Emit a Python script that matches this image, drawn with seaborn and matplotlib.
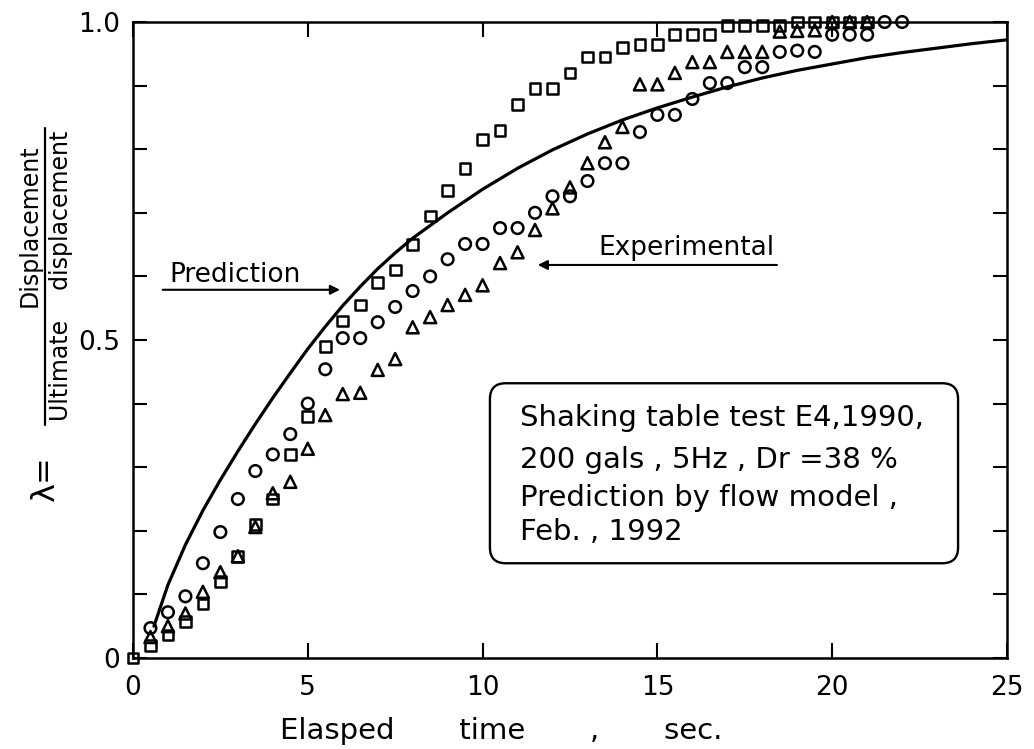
import numpy as np
import pandas as pd
import matplotlib.pyplot as plt
import seaborn as sns
from matplotlib.patches import FancyBboxPatch
from matplotlib.lines import Line2D

# experimental points (t in sec, lambda)
sq_t = [0, 0.5, 1, 1.5, 2, 2.5, 3, 3.5, 4, 4.5, 5, 5.5, 6, 6.5, 7, 7.5, 8, 8.5, 9, 9.5, 10,
        10.5, 11, 11.5, 12, 12.5, 13, 13.5, 14, 14.5, 15, 15.5, 16, 16.5, 17, 17.5, 18, 18.5,
        19, 19.5, 20, 20.5, 21]
sq_lam = [0, 0.02, 0.036, 0.057, 0.085, 0.12, 0.16, 0.21, 0.25, 0.32, 0.38, 0.49, 0.53, 0.555,
          0.59, 0.61, 0.65, 0.695, 0.735, 0.77, 0.815, 0.83, 0.87, 0.895, 0.895, 0.92, 0.945,
          0.945, 0.96, 0.965, 0.965, 0.98, 0.98, 0.98, 0.995, 0.995, 0.995, 0.995,
          1.0, 1.0, 1.0, 1.0, 1.0]

tri_t = [0.5, 1, 1.5, 2, 2.5, 3, 3.5, 4, 4.5, 5, 5.5, 6, 6.5, 7, 7.5, 8, 8.5, 9, 9.5, 10,
         10.5, 11, 11.5, 12, 12.5, 13, 13.5, 14, 14.5, 15, 15.5, 16, 16.5, 17, 17.5, 18, 18.5,
         19, 19.5, 20, 20.5, 21]
tri_lam = [0.033, 0.05, 0.07, 0.104, 0.135, 0.16, 0.206, 0.259, 0.277, 0.329, 0.382, 0.415,
           0.417, 0.453, 0.47, 0.52, 0.536, 0.555, 0.571, 0.586, 0.621, 0.638, 0.673, 0.707,
           0.74, 0.778, 0.811, 0.835, 0.902, 0.902, 0.92, 0.937, 0.937, 0.953, 0.953, 0.953,
           0.985, 0.986, 0.987, 1.0, 1.0, 1.0]

circ_t = [0.5, 1, 1.5, 2, 2.5, 3, 3.5, 4, 4.5, 5, 5.5, 6, 6.5, 7, 7.5, 8, 8.5, 9, 9.5, 10,
          10.5, 11, 11.5, 12, 12.5, 13, 13.5, 14, 14.5, 15, 15.5, 16, 16.5, 17, 17.5, 18, 18.5,
          19, 19.5, 20, 20.5, 21, 21.5, 22]
circ_lam = [0.047, 0.072, 0.097, 0.149, 0.198, 0.25, 0.294, 0.32, 0.352, 0.40, 0.454, 0.503,
            0.503, 0.528, 0.552, 0.577, 0.60, 0.627, 0.651, 0.651, 0.676, 0.676, 0.70, 0.726,
            0.726, 0.75, 0.778, 0.778, 0.827, 0.854, 0.854, 0.879, 0.904, 0.904, 0.929, 0.929,
            0.953, 0.955, 0.953, 0.98, 0.98, 0.98, 1.0, 1.0]

# prediction curve (flow model)
pred_t = [0.6, 1, 1.5, 2, 2.5, 3, 3.5, 4, 4.5, 5, 5.5, 6, 6.5, 7, 7.5, 8, 9, 10, 11, 12, 13,
          14, 15, 16, 17, 18, 19, 20, 21, 22, 23, 24, 25]
pred_lam = [0.05, 0.115, 0.178, 0.232, 0.28, 0.325, 0.368, 0.409, 0.448, 0.486, 0.521, 0.554,
            0.584, 0.612, 0.637, 0.66, 0.70, 0.737, 0.77, 0.799, 0.824, 0.846, 0.865, 0.882,
            0.898, 0.912, 0.924, 0.934, 0.944, 0.952, 0.959, 0.966, 0.972]

box_lines = ["Shaking table test E4,1990,",
             "200 gals , 5Hz , Dr =38 %",
             "Prediction by flow model ,",
             "Feb. , 1992"]

sns.set_style("ticks")
plt.rcParams['font.family'] = ['DejaVu Sans']
plt.rcParams.update({"text.color": "black", "axes.labelcolor": "black",
                     "xtick.color": "black", "ytick.color": "black",
                     "axes.edgecolor": "black"})

fig = plt.figure(figsize=(10.34, 7.49), dpi=100)
ax = fig.add_axes([0.1286, 0.1215, 0.8453, 0.8491])

pred = pd.DataFrame({"t": pred_t, "lam": pred_lam})
sns.lineplot(data=pred, x="t", y="lam", color="black", lw=2.3, ax=ax)

for tt, ll, mk, sz in [(sq_t, sq_lam, "s", 60), (tri_t, tri_lam, "^", 75), (circ_t, circ_lam, "o", 70)]:
    sns.scatterplot(x=tt, y=ll, marker=mk, s=sz, facecolors="none", edgecolor="black",
                    linewidth=1.8, ax=ax, clip_on=False, zorder=3)

ax.set_xlim(0, 25)
ax.set_ylim(0, 1)
ax.set_xticks([0, 5, 10, 15, 20, 25])
ax.set_yticks(np.linspace(0, 1, 11))
ax.set_yticklabels(["0", "", "", "", "", "0.5", "", "", "", "", "1.0"])
ax.tick_params(direction="in", length=11, width=1.5, top=True, right=True,
               labelsize=19, pad=9)
ax.tick_params(axis="x", pad=12)
ax.tick_params(axis="y", length=10)
for sp in ax.spines.values():
    sp.set_linewidth(1.8)
ax.set_xlabel("")
ax.set_ylabel("")

fig.text(501 / 1034, 1 - 731 / 749, "Elasped       time       ,       sec.", fontsize=21,
         ha="center", va="center")

# y label as a fraction
fig.text(30 / 1034, 1 - 226 / 749, "Displacement", fontsize=17, rotation=90,
         ha="center", va="center")
fig.add_artist(Line2D([45 / 1034, 45 / 1034], [1 - 128 / 749, 1 - 425 / 749],
                      color="black", lw=1.6))
fig.text(61 / 1034, 1 - 276 / 749, "Ultimate    displacement", fontsize=17, rotation=90,
         ha="center", va="center")
fig.text(45 / 1034, 1 - 478 / 749, "λ=", fontsize=23, rotation=90,
         ha="center", va="center")

# annotations
ax.text(2.92, 0.602, "Prediction", fontsize=19, ha="center", va="center")
ax.annotate("", xy=(6.0, 0.579), xytext=(0.77, 0.579),
            arrowprops=dict(arrowstyle="-|>", color="black", lw=1.5, mutation_scale=14))
ax.text(15.82, 0.645, "Experimental", fontsize=19, ha="center", va="center")
ax.annotate("", xy=(11.5, 0.618), xytext=(18.5, 0.618),
            arrowprops=dict(arrowstyle="-|>", color="black", lw=1.5, mutation_scale=14))

box = FancyBboxPatch((10.21, 0.149), 13.39, 0.283,
                     boxstyle="round,pad=0,rounding_size=0.45", mutation_aspect=0.055,
                     fc="white", ec="black", lw=1.7, zorder=4)
ax.add_patch(box)
for txt, yy in zip(box_lines, [418, 460, 498, 532]):
    ax.text((520 - 133) / 34.96, (658 - yy) / 636, txt, fontsize=21,
            ha="left", va="center", zorder=5)

fig.savefig("out.png", dpi=100)
